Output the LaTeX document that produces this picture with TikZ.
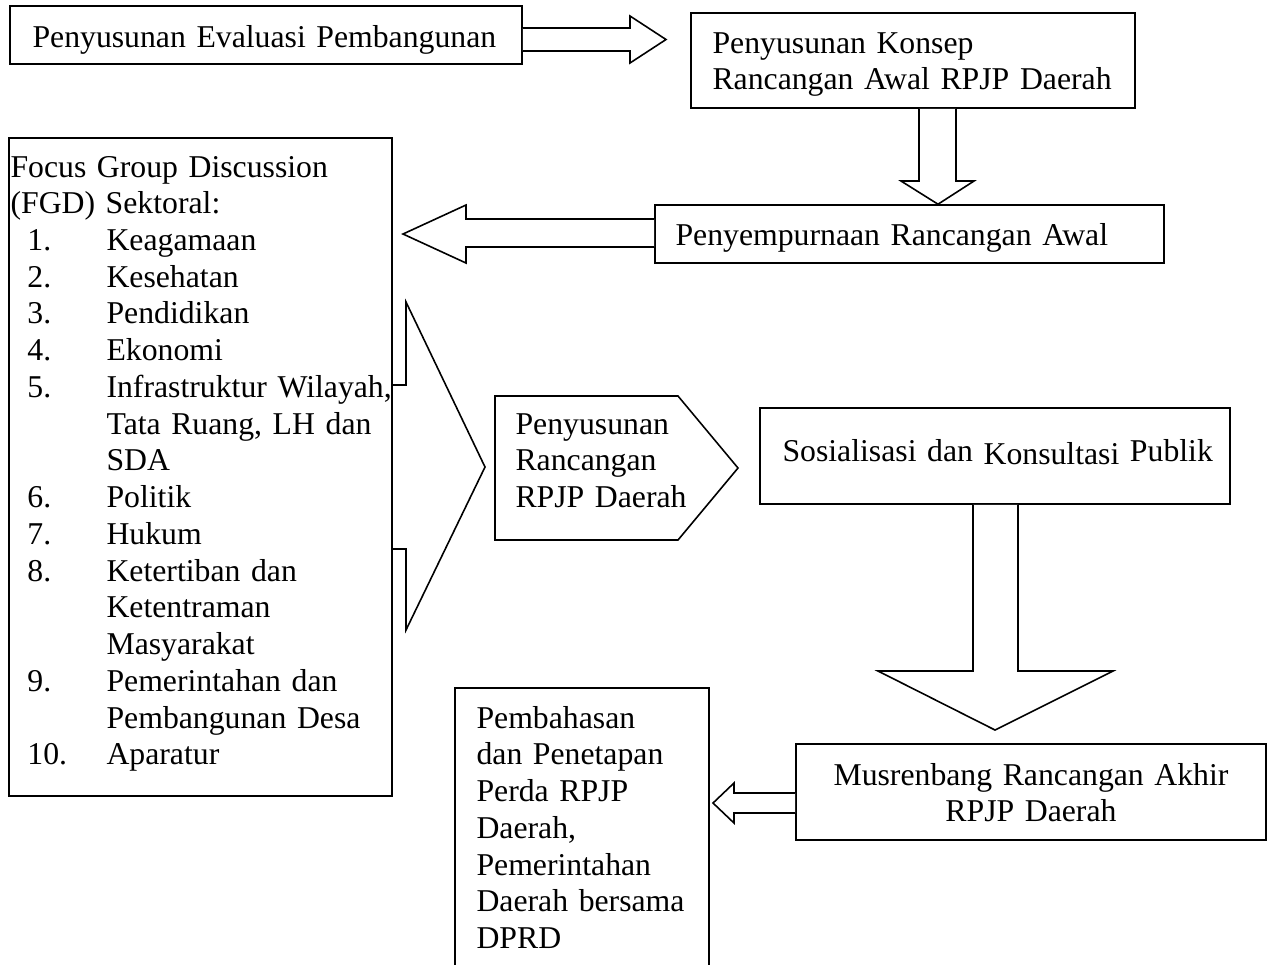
\documentclass[tikz,border=0pt]{standalone}
\usepackage{fontspec}
\setmainfont{Liberation Serif}
\usetikzlibrary{fit,calc}
\newcommand\fgditem[2]{\hspace*{6.4pt}\makebox[29.9pt][l]{#1}#2}
\newcommand\fgdcont[1]{\hspace*{36.3pt}#1}
\begin{document}
\begin{tikzpicture}[x=0.378pt,y=-0.378pt,
  every node/.style={font=\fontsize{12}{13.89}\selectfont},
  box/.style={draw, line width=0.6pt, inner sep=0pt, fill=white},
  txt/.style={inner sep=0pt, anchor=base west, text width=#1, align=left},
  txt/.default=170pt,
  ctxt/.style={inner sep=0pt, anchor=base, text width=#1, align=center},
  blockarrow/.style={draw, line width=0.6pt, fill=white, line join=miter},
  outline/.style={draw, line width=0.6pt, line join=miter}]
\useasboundingbox (0,0) rectangle (1273,964);
\clip (0,0) rectangle (1273,964);

% boxes
\node[box, fit={(10,6)(522,64)}] (b1) {};
\node[box, fit={(691,13)(1135,108)}] (b2) {};
\node[box, fit={(655,205)(1164,263)}] (b3) {};
\node[box, fit={(760,408)(1230,504)}] (sos) {};
\node[box, fit={(796,744)(1266,840)}] (mus) {};
\node[box, fit={(455,688)(709,1000)}] (pem) {};

% right block arrow b1 -> b2
\draw[blockarrow] (b1.east |- 0,28) -- (630,28) -- (630,16) -- (666,39.5) -- (630,63) -- (630,51) -- (b1.east |- 0,51);
% down block arrow b2 -> b3
\draw[blockarrow] (b2.south -| 919,0) -- (919,181) -- (901,181) -- (b3.north -| 938,0) -- (974,181) -- (956,181) -- (b2.south -| 956,0);
% left block arrow b3 -> fgd
\draw[blockarrow] (b3.west |- 0,219) -- (466,219) -- (466,205) -- (403,234) -- (466,263) -- (466,247) -- (b3.west |- 0,247);

% FGD box
\node[box, fit={(9,138)(392,796)}] (fgd) {};
% chevron arrow from fgd toward the pentagon
\draw[outline] (fgd.east |- 0,385) -- (406,385) -- (406,302) -- (485,467) -- (406,630) -- (406,549) -- (fgd.east |- 0,549);

% pentagon
\draw[blockarrow] (495,396) -- (678,396) -- (738,468) -- (678,540) -- (495,540) -- cycle;
\coordinate (pent) at (616,468);

% down block arrow sos -> mus
\draw[blockarrow] (sos.south -| 973,0) -- (973,671) -- (878,671) -- (995,730) -- (1113,671) -- (1018,671) -- (sos.south -| 1018,0);
% small left block arrow mus -> pem
\draw[blockarrow] (mus.west |- 0,793) -- (734,793) -- (734,783) -- (713,803) -- (734,823) -- (734,813) -- (mus.west |- 0,813);

% texts
\node[txt=220pt] (t1) at (32,47) {Penyusunan Evaluasi Pembangunan};
\node[txt] (t2) at (712,53) {Penyusunan Konsep\\Rancangan Awal RPJP Daerah};
\node[txt] (t3) at (675,245) {Penyempurnaan Rancangan Awal};
\node[txt=150pt] (tfgd) at (10,177) {Focus Group Discussion\\
(FGD) Sektoral:\\
\fgditem{1.}{Keagamaan}\\
\fgditem{2.}{Kesehatan}\\
\fgditem{3.}{Pendidikan}\\
\fgditem{4.}{Ekonomi}\\
\fgditem{5.}{Infrastruktur Wilayah,}\\
\fgdcont{Tata Ruang, LH dan}\\
\fgdcont{SDA}\\
\fgditem{6.}{Politik}\\
\fgditem{7.}{Hukum}\\
\fgditem{8.}{Ketertiban dan}\\
\fgdcont{Ketentraman}\\
\fgdcont{Masyarakat}\\
\fgditem{9.}{Pemerintahan dan}\\
\fgdcont{Pembangunan Desa}\\
\fgditem{10.}{Aparatur}};
\node[txt=80pt] (tpent) at (515,434) {Penyusunan\\Rancangan\\RPJP Daerah};
\node[txt] (tsos) at (782,461) {Sosialisasi dan \raisebox{-1.3pt}{Konsultasi} Publik};
\node[ctxt=170pt] (tmus) at (1031,785) {Musrenbang Rancangan Akhir\\RPJP Daerah};
\node[txt=90pt] (tpem) at (476,728) {Pembahasan\\dan Penetapan\\Perda RPJP\\Daerah,\\Pemerintahan\\Daerah bersama\\DPRD};
\end{tikzpicture}
\end{document}
